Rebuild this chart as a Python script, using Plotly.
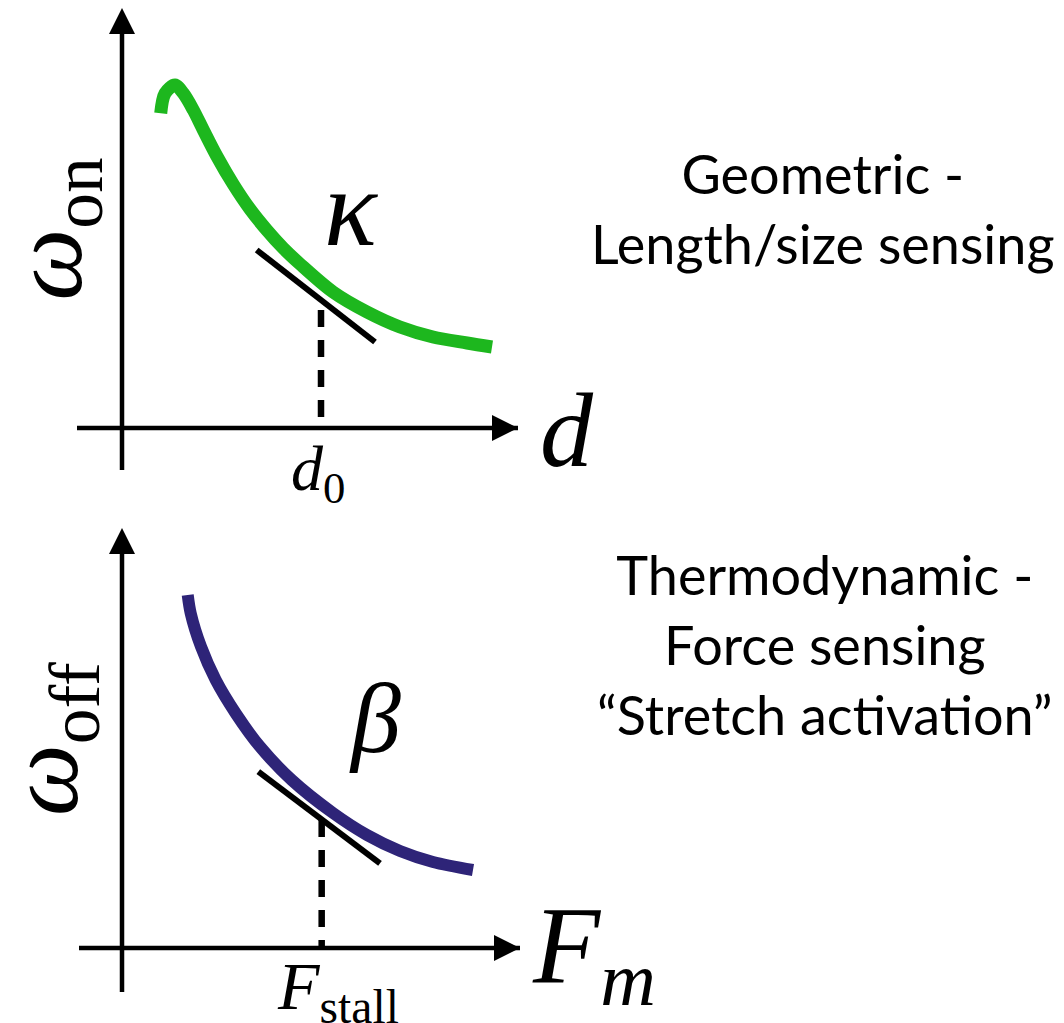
import plotly.graph_objects as go

# ---- data (schematic units; origin at each panel's axis crossing) ----
# top panel: attachment rate omega_on vs distance d
on_x = [0.968, 1.075, 1.325, 1.533, 1.783, 2.033, 2.368, 2.783, 3.2, 3.618, 4.033, 4.45,
        5.275, 6.125, 6.95, 7.775, 8.625, 9.25]
on_y = [7.868, 8.368, 8.575, 8.368, 7.95, 7.45, 6.8, 6.09, 5.47, 4.95, 4.493, 4.1,
        3.4, 2.9, 2.525, 2.275, 2.125, 2.025]
on_tan_x = [3.367, 6.325]
on_tan_y = [4.45, 2.15]
d0 = 4.975
d0_level = 2.95

# bottom panel: detachment rate omega_off vs force F_m
off_x = [1.643, 1.718, 1.975, 2.343, 2.843, 3.45, 4.243, 5.275, 6.125, 6.95, 7.775, 8.775]
off_y = [8.825, 8.367, 7.533, 6.7, 5.867, 5.033, 4.2, 3.375, 2.825, 2.425, 2.15, 1.95]
off_tan_x = [3.408, 6.45]
off_tan_y = [4.408, 2.117]
f_stall = 4.992
f_stall_level = 3.2

# axis extents
top_xaxis = [-1.125, 9.9]
top_yaxis = [-1.05, 10.5]
bot_xaxis = [-1.075, 9.95]
bot_yaxis = [-1.1, 10.5]

GREEN = "#1db71e"
NAVY = "#2e2478"
MATH = "Liberation Serif"
TEXT = "Lato"

fig = go.Figure()


def axis_arrow(xs, ys, yref, sym):
    fig.add_trace(go.Scatter(
        x=xs, y=ys, yaxis=yref, mode="lines+markers",
        line=dict(color="black", width=4.5),
        marker=dict(symbol=sym, size=[0, 26], color="black", opacity=1,
                    line=dict(width=0, color="black")),
        opacity=1, hoverinfo="skip", showlegend=False))


for yref, xa, ya, cx, cy, col, cw, tx, ty, xd, yd in [
    ("y", top_xaxis, top_yaxis, on_x, on_y, GREEN, 13, on_tan_x, on_tan_y, d0, d0_level),
    ("y2", bot_xaxis, bot_yaxis, off_x, off_y, NAVY, 12, off_tan_x, off_tan_y, f_stall, f_stall_level),
]:
    axis_arrow(xa, [0, 0], yref, "arrow-right")
    axis_arrow([0, 0], ya, yref, "arrow-up")
    fig.add_trace(go.Scatter(x=cx, y=cy, yaxis=yref, mode="lines",
                             line=dict(color=col, width=cw, shape="spline", smoothing=0.9),
                             hoverinfo="skip", showlegend=False))
    fig.add_trace(go.Scatter(x=tx, y=ty, yaxis=yref, mode="lines",
                             line=dict(color="black", width=6),
                             hoverinfo="skip", showlegend=False))
    fig.add_trace(go.Scatter(x=[xd, xd], y=[yd, 0], yaxis=yref, mode="lines",
                             line=dict(color="black", width=6.5, dash="17px,13px"),
                             hoverinfo="skip", showlegend=False))

U = 40.0  # px per unit
W, H = 1064, 1023
ox, oy_top, oy_bot = 122, 428, 948
xr = [-ox / U, (W - ox) / U]
yr_top = [-(H - oy_top) / U, oy_top / U]
yr_bot = [-(H - oy_bot) / U, oy_bot / U]

ann = []


def lab(x, y, yref, text, size, angle=0):
    ann.append(dict(x=x, y=y, xref="x", yref=yref, text=text, showarrow=False,
                    textangle=angle, font=dict(family=MATH, size=size, color="black"),
                    xanchor="center", yanchor="middle"))


lab(-1.72, 4.96, "y", "<i>ω</i><sub>on</sub>", 102, -90)
lab(5.725, 5.5, "y", "<i>κ</i>", 110)
lab(11.125, -0.05, "y", "<i>d</i>", 106)
lab(4.9, -1.12, "y", "<i>d</i><sub>0</sub>", 64)
lab(-1.82, 5.225, "y2", "<i>ω</i><sub>off</sub>", 102, -90)
lab(6.325, 5.75, "y2", "<i>β</i>", 100)
lab(11.8, -0.12, "y2", "<i>F</i><sub><i>m</i></sub>", 110)
lab(5.4, -1.07, "y2", "<i>F</i><sub>stall</sub>", 68)

ann.append(dict(x=823 / W, y=1 - 208 / H, xref="paper", yref="paper",
                text="Geometric -<br>Length/size sensing", showarrow=False,
                font=dict(family=TEXT, size=54, color="black"), align="center",
                xanchor="center", yanchor="middle"))
ann.append(dict(x=825 / W, y=1 - 644 / H, xref="paper", yref="paper",
                text="Thermodynamic -<br>Force sensing<br>“Stretch activation”", showarrow=False,
                font=dict(family=TEXT, size=54, color="black"), align="center",
                xanchor="center", yanchor="middle"))

fig.update_layout(
    width=W, height=H, margin=dict(l=0, r=0, t=0, b=0),
    paper_bgcolor="white", plot_bgcolor="white",
    xaxis=dict(range=xr, visible=False, domain=[0, 1]),
    yaxis=dict(range=yr_top, visible=False, domain=[0, 1]),
    yaxis2=dict(range=yr_bot, visible=False, domain=[0, 1], overlaying="y"),
    annotations=ann, showlegend=False,
)

fig.write_html("out.html")
